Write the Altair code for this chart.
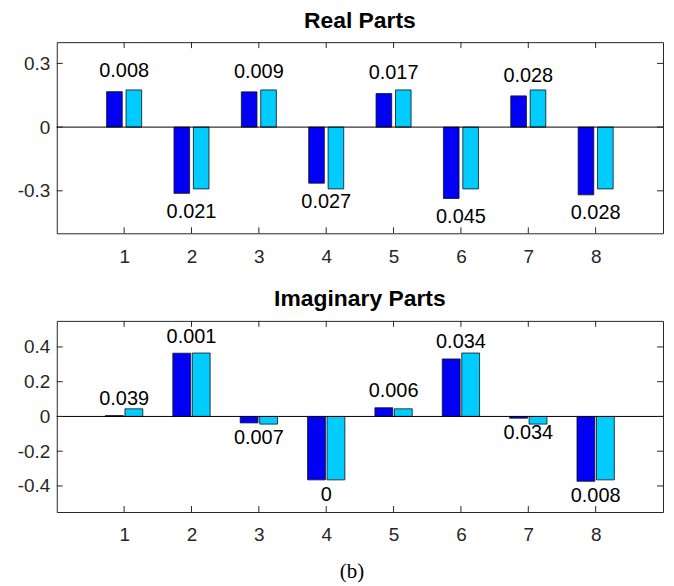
import altair as alt
import pandas as pd

# ---------------- data ----------------
groups = [1, 2, 3, 4, 5, 6, 7, 8]

real_est = [0.167, -0.312, 0.166, -0.264, 0.158, -0.336, 0.147, -0.319]
real_true = [0.175, -0.291, 0.175, -0.291, 0.175, -0.291, 0.175, -0.291]
real_labels = ["0.008", "0.021", "0.009", "0.027", "0.017", "0.045", "0.028", "0.028"]

imag_est = [0.005, 0.364, -0.037, -0.365, 0.050, 0.331, -0.010, -0.373]
imag_true = [0.044, 0.365, -0.044, -0.365, 0.044, 0.365, -0.044, -0.365]
imag_labels = ["0.039", "0.001", "0.007", "0", "0.006", "0.034", "0.034", "0.008"]

real_ticks = [-0.3, 0, 0.3]
imag_ticks = [-0.4, -0.2, 0, 0.2, 0.4]
real_domain = [-0.5, 0.4]
imag_domain = [-0.55, 0.55]
x_domain = [0, 9]

# ---------------- style ----------------
W, H = 609, 192
FONT = "Liberation Sans"
AXC = "#262626"
BLUE, CYAN = "#0000F5", "#00CCFF"
TICK = 6


def panel(title, est, true, labels, ydomain, yticks, gap, barw, show_caption):
    rows = []
    for g, e, t in zip(groups, est, true):
        rows.append({"g": g, "s": "est", "v": e, "x0": g - gap - barw, "x1": g - gap})
        rows.append({"g": g, "s": "true", "v": t, "x0": g + gap, "x1": g + gap + barw})
    bars_df = pd.DataFrame(rows)
    lab_df = pd.DataFrame({"g": groups, "e": est, "lab": labels})
    lab_df["ly"] = [e + 0.095 if e >= 0 else e - 0.087 for e in est]

    xs = alt.Scale(domain=x_domain, nice=False, zero=False)
    ys = alt.Scale(domain=ydomain, nice=False, zero=False)

    x_axis_kw = dict(
        values=groups, ticks=False, domain=False, grid=False,
        labelFontSize=19, labelFont=FONT, labelColor=AXC, labelPadding=14,
        labelFlush=False,
    )
    if show_caption:
        x_axis_kw.update(
            title="(b)", titleFont="Liberation Serif", titleFontSize=21,
            titleFontWeight="normal", titleColor="black", titlePadding=16,
            titleX=296, titleAnchor="start", titleAlign="center",
        )
    else:
        x_axis_kw["title"] = None
    xa = alt.Axis(**x_axis_kw)
    ya = alt.Axis(
        values=yticks, ticks=False, domain=False, grid=False,
        labelFontSize=19, labelFont=FONT, labelColor=AXC, labelPadding=7,
        labelExpr="datum.value == 0 ? '0' : toString(datum.value)",
        title=None)

    bars = alt.Chart(bars_df).mark_bar(stroke="#111111", strokeWidth=0.8).encode(
        x=alt.X("x0:Q", scale=xs, axis=xa),
        x2="x1:Q",
        y=alt.Y("v:Q", scale=ys, axis=ya),
        y2=alt.datum(0),
        color=alt.Color("s:N", scale=alt.Scale(domain=["est", "true"], range=[BLUE, CYAN]), legend=None),
    )

    zero = alt.Chart(pd.DataFrame({"z": [0]})).mark_rule(color="black", strokeWidth=1).encode(
        y=alt.Y("z:Q", scale=ys, axis=ya)
    )

    yt_df = pd.DataFrame({"t": yticks})
    xt_df = pd.DataFrame({"t": groups})
    yl = alt.Chart(yt_df).mark_rule(color=AXC, strokeWidth=1).encode(
        y=alt.Y("t:Q", scale=ys, axis=ya), x=alt.value(0), x2=alt.value(TICK))
    yr = alt.Chart(yt_df).mark_rule(color=AXC, strokeWidth=1).encode(
        y=alt.Y("t:Q", scale=ys, axis=ya), x=alt.value(W - TICK), x2=alt.value(W))
    xb = alt.Chart(xt_df).mark_rule(color=AXC, strokeWidth=1).encode(
        x=alt.X("t:Q", scale=xs, axis=xa), y=alt.value(H - TICK), y2=alt.value(H))
    xt = alt.Chart(xt_df).mark_rule(color=AXC, strokeWidth=1).encode(
        x=alt.X("t:Q", scale=xs, axis=xa), y=alt.value(0), y2=alt.value(TICK))

    text = alt.Chart(lab_df).mark_text(
        fontSize=20, font=FONT, color="black", align="center", baseline="middle"
    ).encode(
        x=alt.X("g:Q", scale=xs, axis=xa),
        y=alt.Y("ly:Q", scale=ys, axis=ya),
        text="lab:N",
    )

    return alt.layer(bars, zero, yl, yr, xb, xt, text).properties(
        width=W, height=H,
        title=alt.Title(title, fontSize=23, font=FONT, fontWeight="bold",
                        color="black", offset=9, anchor="middle"),
    )


top = panel("Real Parts", real_est, real_true, real_labels, real_domain, real_ticks, 0.028, 0.232, False)
bottom = panel("Imaginary Parts", imag_est, imag_true, imag_labels, imag_domain, imag_ticks, 0.012, 0.265, True)

chart = alt.vconcat(top, bottom, spacing=21).properties(
    padding={"left": 8, "top": 0, "right": 2, "bottom": 0}
).configure_view(stroke=AXC, strokeWidth=1)

chart.save("out.html", embed_options={"renderer": "svg", "actions": False})
